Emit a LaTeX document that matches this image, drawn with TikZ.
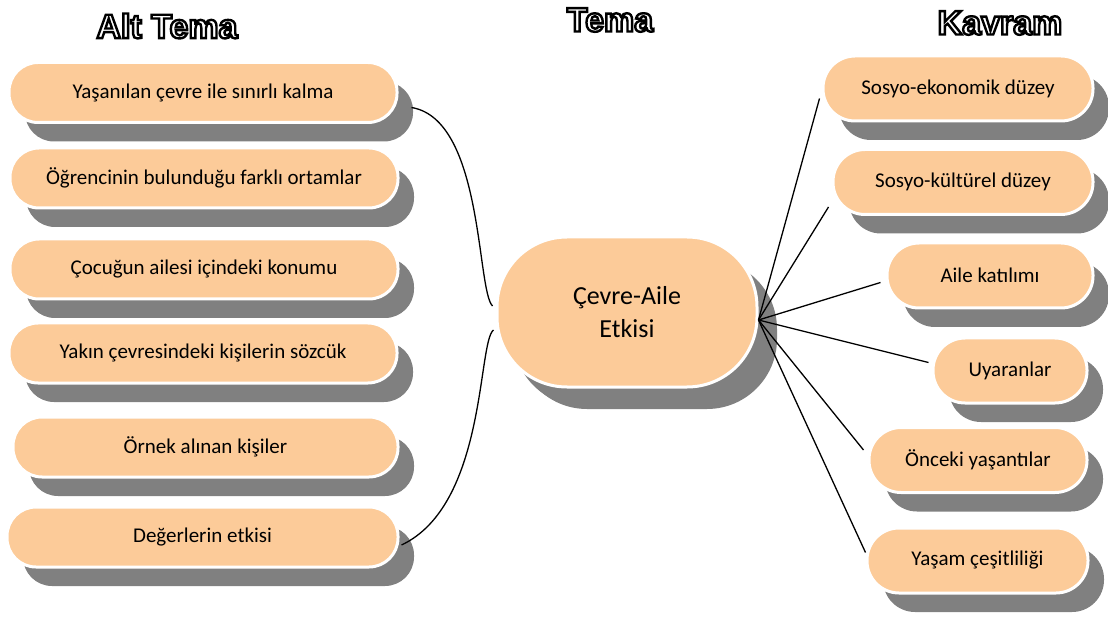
\documentclass[tikz,border=0pt]{standalone}
\usepackage{fontspec}
\setmainfont{Carlito}
\newfontfamily\hdrfont{Liberation Sans}
\usetikzlibrary{shadows,calc}

\definecolor{peach}{RGB}{252,203,153}
\definecolor{shade}{RGB}{128,128,128}

% white letters with a black rim (fill and stroke text rendering)
\newcommand{\outlined}[1]{%
  {\color{white}\special{pdf:literal direct 0 G 2.4 w 2 Tr}#1\special{pdf:literal direct 0 Tr}}}

\tikzset{
  box/.style={rectangle, rounded corners=29pt, fill=peach, draw=white,
    line width=3pt, inner sep=0pt, font=\fontsize{21}{25}\selectfont,
    drop shadow={shadow xshift=16pt, shadow yshift=-19pt, fill=shade, opacity=1}},
  leftbox/.style={box, minimum width=388pt, minimum height=60pt},
  rightbox/.style={box, rounded corners=32pt, minimum height=65pt},
  centerbox/.style={box, rounded corners=70pt, minimum width=260pt,
    minimum height=150pt, align=center, font=\fontsize{26}{33}\selectfont,
    drop shadow={shadow xshift=20pt, shadow yshift=-22pt, fill=shade, opacity=1}},
  header/.style={inner sep=0pt, font=\hdrfont\bfseries\fontsize{34}{34}\selectfont},
  link/.style={line width=1.3pt, black}
}

\begin{document}
\begin{tikzpicture}[x=1pt,y=-1pt]
  \useasboundingbox (0,0) rectangle (1108,617);

  % headings
  \node[header] (hAlt) at (167,26) {\outlined{Alt Tema}};
  \node[header] (hTema) at (610,20) {\outlined{Tema}};
  \node[header] (hKavram) at (1000,23) {\outlined{Kavram}};

  % sub-themes
  \node[leftbox] (l1) at (203,92.5) {Yaşanılan çevre ile sınırlı kalma};
  \node[leftbox] (l2) at (204,178) {Öğrencinin bulunduğu farklı ortamlar};
  \node[leftbox] (l3) at (204,269) {Çocuğun ailesi içindeki konumu};
  \node[leftbox] (l4) at (203,353) {Yakın çevresindeki kişilerin sözcük};
  \node[leftbox, minimum width=385pt] (l5) at (205.5,447) {Örnek alınan kişiler};
  \node[leftbox, minimum width=391pt] (l6) at (202.5,537) {Değerlerin etkisi};

  % theme
  \node[centerbox] (c) at (627,312) {Çevre-Aile\\Etkisi};

  % concepts
  \node[rightbox, minimum width=270pt] (r1) at (958,88.5) {Sosyo-ekonomik düzey};
  \node[rightbox, minimum width=260pt] (r2) at (963,182) {Sosyo-kültürel düzey};
  \node[rightbox, minimum width=206pt] (r3) at (990,275.5) {Aile katılımı};
  \node[rightbox, minimum width=154pt] (r4) at (1010,370.5) {Uyaranlar};
  \node[rightbox, minimum width=218pt] (r5) at (978,460) {Önceki yaşantılar};
  \node[rightbox, minimum width=221pt] (r6) at (977.5,560.5) {Yaşam çeşitliliği};

  % left connectors
  \draw[link] ($(l1.east)+(13,15)$) .. controls +(72,12) and +(-16,-16) .. ($(c.west)+(-3,-6)$);
  \draw[link] ($(c.west)+(-2,18)$) .. controls +(-16,12) and +(85,-40) .. ($(l6.east)+(2,8)$);

  % right connectors
  \coordinate (hub) at ($(c.east)+(0,8)$);
  \draw[link] (hub) -- ($(r1.west)+(-2,10)$);
  \draw[link] (hub) -- ($(r2.west)+(-3,25)$);
  \draw[link] (hub) -- ($(r3.west)+(-5,7)$);
  \draw[link] (hub) -- ($(r4.west)+(-3,-8)$);
  \draw[link] (hub) -- ($(r5.west)+(-4,-10)$);
  \draw[link] (hub) -- ($(r6.west)+(0,-8)$);
\end{tikzpicture}
\end{document}
